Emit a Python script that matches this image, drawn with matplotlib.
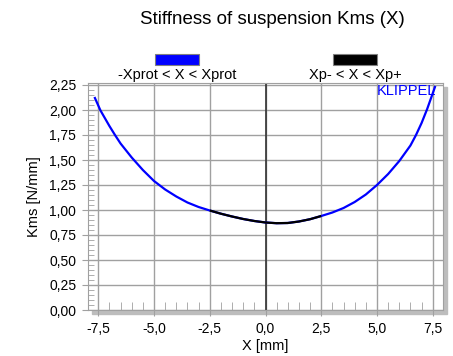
import matplotlib
matplotlib.use("Agg")
import matplotlib.pyplot as plt
from matplotlib.patches import Rectangle
from matplotlib.ticker import FuncFormatter, MultipleLocator

plt.rcParams['font.family'] = ['Liberation Sans', 'DejaVu Sans']

# Kms(X) curve, -Xprot < X < Xprot (blue)
x_mm = [-7.65, -7.4, -7.0, -6.75, -6.5, -6.0, -5.5, -5.0, -4.5, -4.0, -3.5, -3.0, -2.5, -2.0,
        -1.5, -1.0, -0.5, 0.0, 0.5, 1.0, 1.5, 2.0, 2.5, 3.0, 3.5, 4.0, 4.5,
        5.0, 5.5, 6.0, 6.5, 6.75, 7.0, 7.25, 7.6]
kms = [2.12, 1.995, 1.84, 1.75, 1.665, 1.525, 1.40, 1.29, 1.205, 1.135, 1.075, 1.03, 0.995, 0.963,
       0.935, 0.91, 0.89, 0.875, 0.868, 0.87, 0.885, 0.908, 0.94, 0.975, 1.02, 1.08, 1.155,
       1.25, 1.36, 1.49, 1.645, 1.75, 1.87, 2.01, 2.23]

# Xp- < X < Xp+ (black)
xp_mm = [-2.45, -2.0, -1.5, -1.0, -0.5, 0.0, 0.5, 1.0, 1.5, 2.0, 2.45]
xp_kms = [0.992, 0.963, 0.935, 0.91, 0.89, 0.875, 0.868, 0.87, 0.885, 0.908, 0.937]

fig = plt.figure(figsize=(4.53, 3.56), dpi=100)
ax = fig.add_axes([88 / 453, 46 / 356, 355 / 453, 227 / 356])

# drop shadow behind the plot box
fig.patches.append(Rectangle((92 / 453, 42 / 356), 355 / 453, 227 / 356,
                             transform=fig.transFigure, color='#bdbdbd', zorder=-10))
ax.set_facecolor('white')

ax.plot(x_mm, kms, color='#0000ff', lw=1.6, zorder=3)
ax.plot(xp_mm, xp_kms, color='black', lw=1.6, zorder=4)
ax.axvline(0, color='#333333', lw=1.2, zorder=2)

ax.set_xlim(-7.96, 7.96)
ax.set_ylim(0, 2.27)
ax.xaxis.set_major_locator(MultipleLocator(2.5))
ax.xaxis.set_minor_locator(MultipleLocator(0.5))
ax.yaxis.set_major_locator(MultipleLocator(0.25))
ax.yaxis.set_minor_locator(MultipleLocator(0.05))
ax.xaxis.set_major_formatter(FuncFormatter(lambda v, p: f"{v:.1f}".replace('.', ',')))
ax.yaxis.set_major_formatter(FuncFormatter(lambda v, p: f"{v:.2f}".replace('.', ',')))

ax.grid(True, which='major', color='#a0a0a0', lw=1.0)
ax.tick_params(which='major', direction='out', length=4.5, color='#a0a0a0',
               labelsize=10, pad=4)
ax.tick_params(axis='x', which='minor', direction='in', length=5.5, color='#a0a0a0')
ax.tick_params(axis='y', which='minor', direction='in', length=4.5, color='#a0a0a0')
for s in ax.spines.values():
    s.set_color('#a0a0a0')

ax.set_xlabel("X [mm]", fontsize=10.5, labelpad=2)
ax.set_ylabel("Kms [N/mm]", fontsize=10.5, labelpad=6)
ax.text(0.98, 0.995, "KLIPPEL", color='#0000ff', fontsize=10.5,
        ha='right', va='top', transform=ax.transAxes)

fig.suptitle("Stiffness of suspension Kms (X)", fontsize=13.5, x=272 / 453, y=0.97)

# legend boxes
fig.patches.append(Rectangle((155 / 453, 291 / 356), 44 / 453, 11 / 356,
                             transform=fig.transFigure, facecolor='#0000ff',
                             edgecolor='#808080', lw=0.8))
fig.patches.append(Rectangle((333 / 453, 291 / 356), 44 / 453, 11 / 356,
                             transform=fig.transFigure, facecolor='black',
                             edgecolor='#808080', lw=0.8))
fig.text(177 / 453, 281 / 356, "-Xprot < X < Xprot", fontsize=10.5, ha='center', va='center')
fig.text(355 / 453, 281 / 356, "Xp- < X < Xp+", fontsize=10.5, ha='center', va='center')

fig.savefig("out.png", dpi=100)
